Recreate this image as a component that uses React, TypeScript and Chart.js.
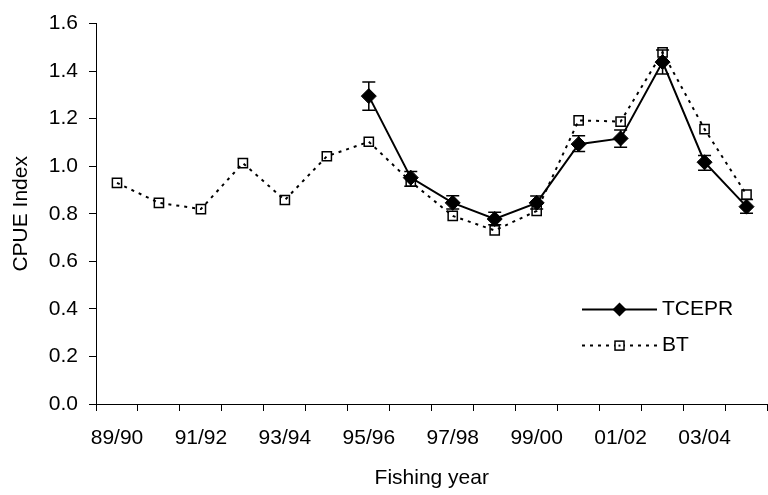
import React, { useEffect, useRef } from 'react';
import { Chart, registerables } from 'chart.js';

Chart.register(...registerables);

const categories = [
  '89/90', '90/91', '91/92', '92/93', '93/94', '94/95', '95/96', '96/97',
  '97/98', '98/99', '99/00', '00/01', '01/02', '02/03', '03/04', '04/05',
];

const tceprValues = [null, null, null, null, null, null, 1.295, 0.952, 0.846, 0.778, 0.846, 1.093, 1.117, 1.438, 1.017, 0.83];
const tceprUpper = [null, null, null, null, null, null, 1.354, 0.978, 0.876, 0.806, 0.875, 1.128, 1.152, 1.489, 1.045, 0.86];
const tceprLower = [null, null, null, null, null, null, 1.236, 0.916, 0.82, 0.754, 0.82, 1.062, 1.08, 1.388, 0.983, 0.802];
const btValues = [0.93, 0.846, 0.82, 1.013, 0.858, 1.042, 1.103, 0.935, 0.791, 0.73, 0.812, 1.193, 1.188, 1.479, 1.156, 0.881];

const yMin = 0;
const yMax = 1.6;
const yStep = 0.2;

const FONT = 'Liberation Sans';

export default function App() {
  const ref = useRef<HTMLCanvasElement>(null);

  useEffect(() => {
    document.body.style.margin = '0';
    Chart.defaults.font.family = FONT;
    Chart.defaults.color = '#000';

    const errorBars = {
      id: 'errorBars',
      afterDatasetsDraw(chart: any) {
        const ctx = chart.ctx;
        const meta = chart.getDatasetMeta(0);
        const ys = chart.scales.y;
        ctx.save();
        ctx.strokeStyle = '#000';
        ctx.lineWidth = 1.5;
        tceprValues.forEach((v, i) => {
          if (v == null) return;
          const px = meta.data[i].x;
          const yt = ys.getPixelForValue(tceprUpper[i] as number);
          const yb = ys.getPixelForValue(tceprLower[i] as number);
          ctx.beginPath();
          ctx.moveTo(px, yt);
          ctx.lineTo(px, yb);
          ctx.moveTo(px - 6.5, yt);
          ctx.lineTo(px + 6.5, yt);
          ctx.moveTo(px - 6.5, yb);
          ctx.lineTo(px + 6.5, yb);
          ctx.stroke();
        });
        ctx.restore();
      },
    };

    const customLegend = {
      id: 'customLegend',
      afterDraw(chart: any) {
        const ctx = chart.ctx;
        const a = chart.chartArea;
        const x0 = a.left + 486;
        const x1 = a.left + 561;
        const xm = (x0 + x1) / 2;
        const rows = [
          { y: a.top + 286, label: 'TCEPR', dash: [] as number[], marker: 'diamond' },
          { y: a.top + 322, label: 'BT', dash: [3, 5], marker: 'square' },
        ];
        ctx.save();
        rows.forEach((r) => {
          ctx.strokeStyle = '#000';
          ctx.lineWidth = 2;
          ctx.setLineDash(r.dash);
          ctx.beginPath();
          ctx.moveTo(x0, r.y);
          ctx.lineTo(x1, r.y);
          ctx.stroke();
          ctx.setLineDash([]);
          if (r.marker === 'diamond') {
            ctx.fillStyle = '#000';
            ctx.beginPath();
            ctx.moveTo(xm, r.y - 7);
            ctx.lineTo(xm + 7, r.y);
            ctx.lineTo(xm, r.y + 7);
            ctx.lineTo(xm - 7, r.y);
            ctx.closePath();
            ctx.fill();
          } else {
            ctx.fillStyle = '#fff';
            ctx.lineWidth = 1.5;
            ctx.fillRect(xm - 4.5, r.y - 4.5, 9, 9);
            ctx.strokeRect(xm - 4.5, r.y - 4.5, 9, 9);
            ctx.fillStyle = '#000';
            ctx.fillRect(xm - 1, r.y - 1, 2, 2);
          }
          ctx.fillStyle = '#000';
          ctx.font = `21px "${FONT}"`;
          ctx.textBaseline = 'middle';
          ctx.textAlign = 'left';
          ctx.fillText(r.label, x1 + 5, r.y);
        });
        ctx.restore();
      },
    };

    const chart = new Chart(ref.current as HTMLCanvasElement, {
      type: 'line',
      data: {
        labels: categories,
        datasets: [
          {
            label: 'TCEPR',
            data: tceprValues,
            borderColor: '#000',
            backgroundColor: '#000',
            borderWidth: 2,
            pointStyle: 'rectRot',
            pointRadius: 7.5,
            pointBackgroundColor: '#000',
            pointBorderColor: '#000',
            pointBorderWidth: 1,
            tension: 0,
            spanGaps: false,
          },
          {
            label: 'BT',
            data: btValues,
            borderColor: '#000',
            borderWidth: 2,
            borderDash: [3, 5],
            pointStyle: 'rect',
            pointRadius: 6.5,
            pointBorderWidth: 1.5,
            pointBackgroundColor: 'rgba(255,255,255,0)',
            pointBorderColor: '#000',
            tension: 0,
          },
        ],
      } as any,
      options: {
        responsive: true,
        maintainAspectRatio: false,
        animation: false,
        layout: { padding: { top: 20, right: 4, left: 0, bottom: 0 } },
        plugins: {
          legend: { display: false },
          tooltip: { enabled: false },
        },
        scales: {
          x: {
            type: 'category',
            offset: true,
            grid: { offset: true, drawOnChartArea: false, tickLength: 7, color: '#000', lineWidth: 1 },
            border: { color: '#000', width: 1 },
            ticks: {
              autoSkip: false,
              maxRotation: 0,
              padding: 15,
              color: '#000',
              font: { family: FONT, size: 21 },
              callback: (_v: any, i: number) => (i % 2 === 0 ? categories[i] : ''),
            },
            title: {
              display: true,
              text: 'Fishing year',
              color: '#000',
              font: { family: FONT, size: 21 },
              padding: { top: 0, bottom: 4 },
            },
            afterFit: (s: any) => {
              s.height = 91;
            },
          },
          y: {
            min: yMin,
            max: yMax,
            ticks: {
              stepSize: yStep,
              padding: 11,
              color: '#000',
              font: { family: FONT, size: 21 },
              callback: (v: any) => Number(v).toFixed(1),
            },
            grid: { drawOnChartArea: false, tickLength: 7, color: '#000', lineWidth: 1 },
            border: { color: '#000', width: 1 },
            title: {
              display: true,
              text: 'CPUE Index',
              color: '#000',
              font: { family: FONT, size: 21 },
              padding: { top: 9, bottom: 0 },
            },
            afterFit: (s: any) => {
              s.width = 96;
            },
          },
        },
      } as any,
      plugins: [errorBars, customLegend],
    });

    return () => chart.destroy();
  }, []);

  return (
    <div style={{ position: 'absolute', left: 0, top: 0, width: 768, height: 495, overflow: 'hidden', background: '#fff' }}>
      <div style={{ position: 'relative', width: 776, height: 495 }}>
        <canvas ref={ref} />
      </div>
    </div>
  );
}
